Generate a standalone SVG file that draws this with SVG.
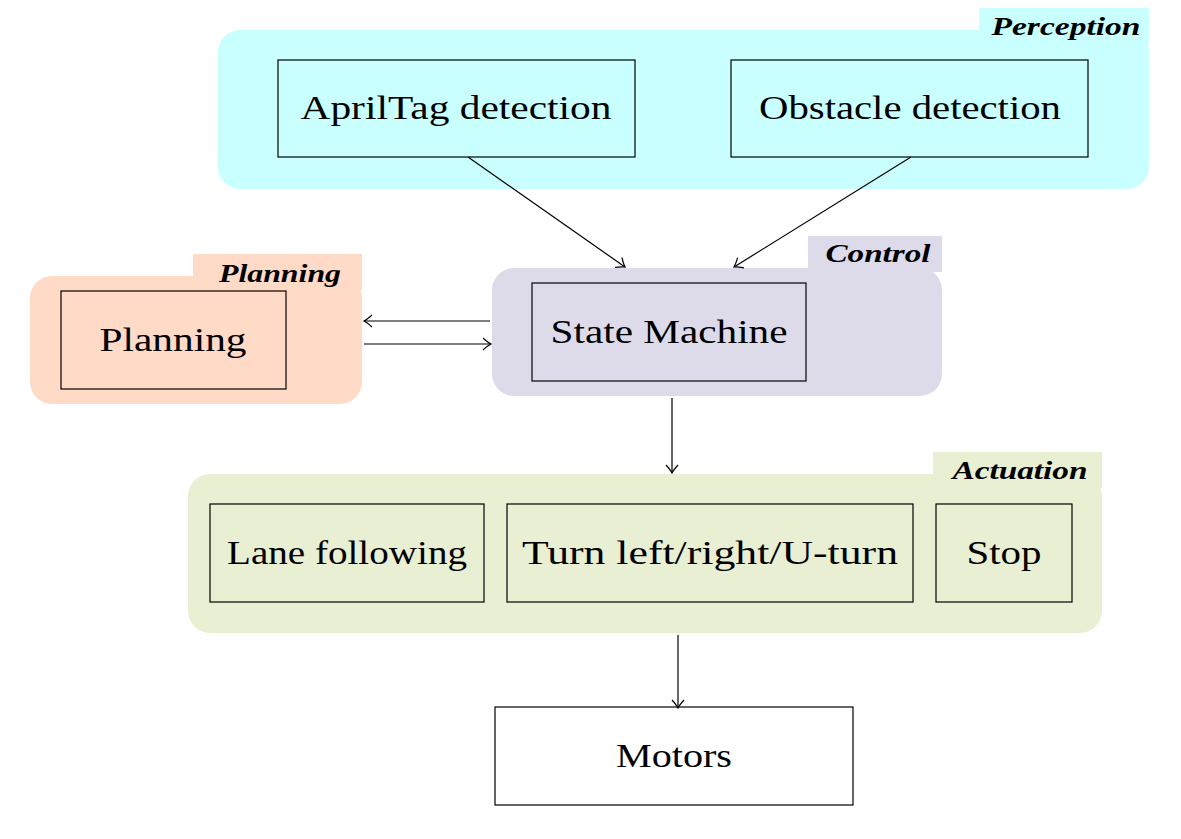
<svg xmlns="http://www.w3.org/2000/svg" width="1181" height="839" viewBox="0 0 1181 839">
<style>
.node{fill:none;stroke:#000;stroke-width:1.2}
.t{font-family:"Liberation Serif","DejaVu Serif",serif;font-size:33px;fill:#000;text-anchor:middle;dominant-baseline:central}
.lab{font-family:"Liberation Serif","DejaVu Serif",serif;font-size:25px;font-weight:bold;font-style:italic;fill:#000;text-anchor:middle;dominant-baseline:central}
.c{fill:none;stroke:#000;stroke-width:1.2;marker-end:url(#arr)}
</style>
<defs>
<marker id="arr" markerWidth="16" markerHeight="16" refX="12" refY="8" orient="auto" markerUnits="userSpaceOnUse">
<path d="M4,2 Q9,6.5 12,8 Q9,9.5 4,14" fill="none" stroke="#000" stroke-width="1.2"/>
</marker>
</defs>
<rect width="1181" height="839" fill="#fff"/>
<g id="perception">
<rect x="218" y="30" width="931" height="159" rx="22" fill="#c9ffff"/>
<rect x="979" y="8" width="170" height="36" fill="#c9ffff"/>
<text class="lab" x="1066" y="26" textLength="149" lengthAdjust="spacingAndGlyphs">Perception</text>
</g>
<g id="control">
<rect x="492" y="268" width="450" height="128" rx="22" fill="#dddbea"/>
<rect x="808" y="236" width="134" height="36" fill="#dddbea"/>
<text class="lab" x="878" y="253" textLength="105" lengthAdjust="spacingAndGlyphs">Control</text>
</g>
<g id="planning-group">
<rect x="30" y="276" width="332" height="128" rx="22" fill="#ffdac7"/>
<rect x="193" y="254" width="169" height="36" fill="#ffdac7"/>
<text class="lab" x="280" y="273" textLength="122" lengthAdjust="spacingAndGlyphs">Planning</text>
</g>
<g id="actuation">
<rect x="188" y="474" width="914" height="159" rx="22" fill="#e8efd3"/>
<rect x="933" y="452" width="169" height="36" fill="#e8efd3"/>
<text class="lab" x="1020" y="470" textLength="135" lengthAdjust="spacingAndGlyphs">Actuation</text>
</g>
<g id="apriltag">
<rect class="node" x="278" y="60" width="357" height="97"/>
<text class="t" x="456" y="108" textLength="311" lengthAdjust="spacingAndGlyphs">AprilTag detection</text>
</g>
<g id="obstacle">
<rect class="node" x="731" y="60" width="357" height="97"/>
<text class="t" x="910" y="108" textLength="302" lengthAdjust="spacingAndGlyphs">Obstacle detection</text>
</g>
<g id="statemachine">
<rect class="node" x="532" y="283" width="274" height="98"/>
<text class="t" x="669" y="332" textLength="237" lengthAdjust="spacingAndGlyphs">State Machine</text>
</g>
<g id="planning">
<rect class="node" x="61" y="291" width="225" height="98"/>
<text class="t" x="173" y="340" textLength="147" lengthAdjust="spacingAndGlyphs">Planning</text>
</g>
<g id="lane">
<rect class="node" x="210" y="504" width="274" height="98"/>
<text class="t" x="347" y="553" textLength="240" lengthAdjust="spacingAndGlyphs">Lane following</text>
</g>
<g id="turn">
<rect class="node" x="507" y="504" width="406" height="98"/>
<text class="t" x="710" y="553" textLength="376" lengthAdjust="spacingAndGlyphs">Turn left/right/U-turn</text>
</g>
<g id="stop">
<rect class="node" x="936" y="504" width="136" height="98"/>
<text class="t" x="1004" y="553" textLength="75" lengthAdjust="spacingAndGlyphs">Stop</text>
</g>
<g id="motors">
<rect class="node" x="495" y="707" width="358" height="98"/>
<text class="t" x="674" y="756" textLength="116" lengthAdjust="spacingAndGlyphs">Motors</text>
</g>
<g id="connectors">
<line class="c" x1="468" y1="157" x2="625" y2="267"/>
<line class="c" x1="911" y1="157" x2="734" y2="267"/>
<line class="c" x1="490" y1="321" x2="364" y2="321"/>
<line class="c" x1="364" y1="344" x2="491" y2="344"/>
<line class="c" x1="672" y1="398" x2="672" y2="473"/>
<line class="c" x1="678" y1="635" x2="678" y2="708"/>
</g>
</svg>
